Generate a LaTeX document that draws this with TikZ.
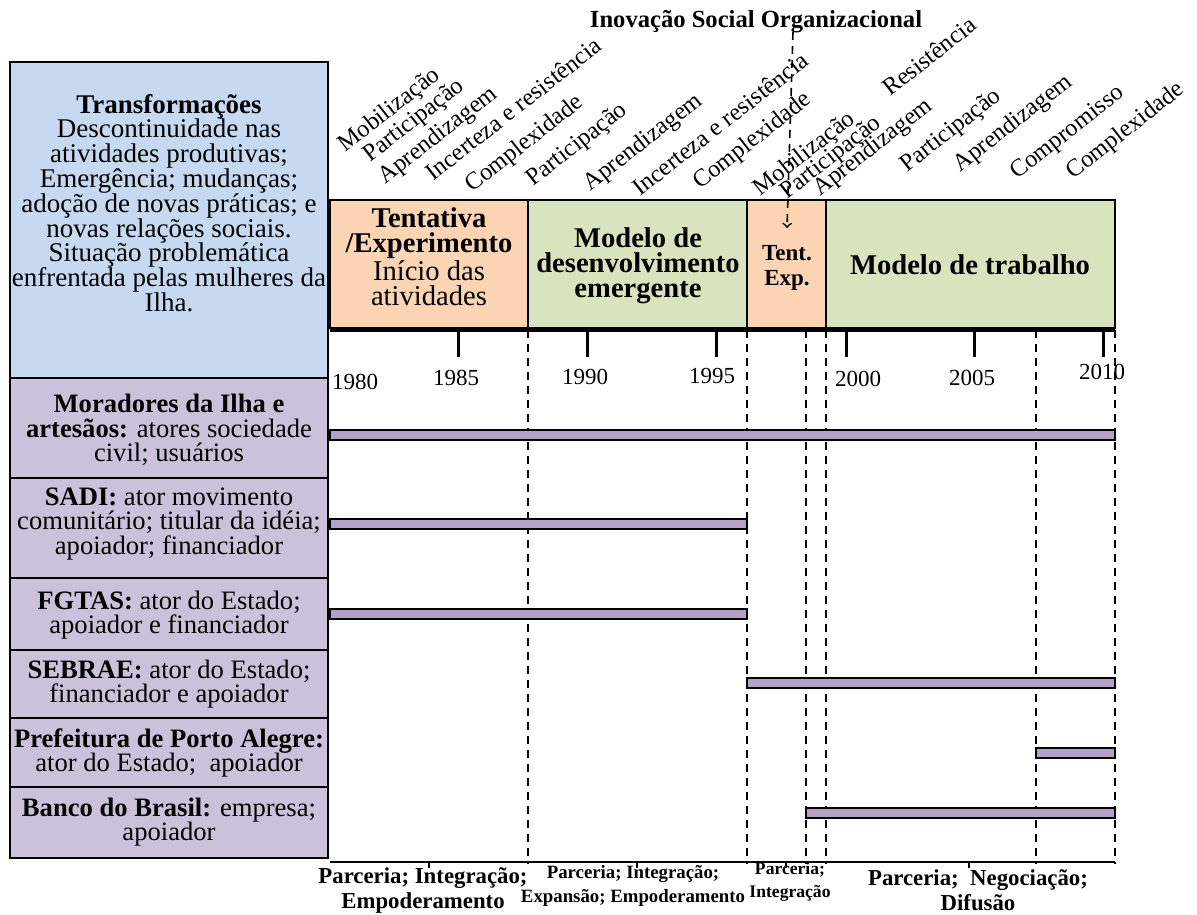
\documentclass[tikz,border=0pt]{standalone}
\usepackage{fontspec}
\setmainfont{Liberation Serif}
\usepackage{xcolor}
\usepackage{tikz}
\usetikzlibrary{positioning}
\definecolor{blueBox}{HTML}{C6D9F1}
\definecolor{peach}{HTML}{FBD4B4}
\definecolor{olive}{HTML}{D7E4BD}
\definecolor{lilac}{HTML}{CCC1DA}
\definecolor{barLilac}{HTML}{B3A2C7}

\begin{document}
\begin{tikzpicture}[x=0.5pt, y=-0.5pt,
	actor/.style={align=center, inner sep=0pt, font=\fontsize{13.3}{12.4}\selectfont},
	phase/.style={align=center, inner sep=0pt, font=\fontsize{14.3}{12.5}\selectfont\bfseries},
	word/.style={rotate=38, anchor=base west, inner sep=0pt, font=\fontsize{12.2}{12.2}\selectfont},
	year/.style={inner sep=0pt, font=\fontsize{11.5}{11.5}\selectfont},
	bigtag/.style={align=center, inner sep=0pt, font=\fontsize{11.4}{12.5}\selectfont\bfseries},
	smalltag/.style={align=center, inner sep=0pt, font=\fontsize{9.4}{12}\selectfont\bfseries},
	cell/.style={draw, line width=1.3pt},
	bar/.style={draw, line width=1.1pt, fill=barLilac},
	cut/.style={line width=0.8pt, dash pattern=on 4pt off 3pt}]
	
	\useasboundingbox (0,0) rectangle (1197,914);
	
	% left column
	\filldraw [cell, fill=blueBox] (10,62) rectangle (328,378);
	\filldraw [cell, fill=lilac] (10,378) rectangle (328,478);
	\filldraw [cell, fill=lilac] (10,478) rectangle (328,578);
	\filldraw [cell, fill=lilac] (10,578) rectangle (328,650);
	\filldraw [cell, fill=lilac] (10,650) rectangle (328,718);
	\filldraw [cell, fill=lilac] (10,718) rectangle (328,787);
	\filldraw [cell, fill=lilac] (10,787) rectangle (328,858);
	
	\node (transf) [actor, font=\fontsize{13.5}{12.4}\selectfont] at (169,203) {\textbf{Transformações}\\Descontinuidade nas\\atividades produtivas;\\Emergência; mudanças;\\adoção de novas práticas; e\\novas relações sociais.\\Situação problemática\\enfrentada pelas mulheres da\\Ilha.};
	\node (morad) [actor] at (169,430) {\textbf{Moradores da Ilha e}\\\textbf{artesãos:} atores sociedade\\civil; usuários};
	\node (sadi) [actor] at (169,524) {\textbf{SADI:} ator movimento\\comunitário; titular da idéia;\\apoiador; financiador};
	\node (fgtas) [actor] at (169,615) {\textbf{FGTAS:} ator do Estado;\\apoiador e financiador};
	\node (sebrae) [actor] at (169,684) {\textbf{SEBRAE:} ator do Estado;\\financiador e apoiador};
	\node (pmpa) [actor] at (169,753) {\textbf{Prefeitura de Porto Alegre:}\\ator do Estado;\ \ apoiador};
	\node (bb) [actor] at (169,822) {\textbf{Banco do Brasil:} empresa;\\apoiador};
	
	% phases
	\filldraw [cell, fill=peach] (330,200) rectangle (528,328);
	\filldraw [cell, fill=olive] (528,200) rectangle (747,328);
	\filldraw [cell, fill=peach] (747,200) rectangle (826,328);
	\filldraw [cell, fill=olive] (826,200) rectangle (1115,328);
	
	\node (tent) [phase] at (429,257) {Tentativa\\/Experimento\\\mdseries Início das\\\mdseries atividades};
	\node (emerg) [phase] at (638,266) {Modelo de\\desenvolvimento\\emergente};
	\node (tentexp) [phase, font=\fontsize{11.5}{12.5}\selectfont\bfseries] at (787,268) {Tent.\\Exp.};
	\node (trab) [phase] at (970,265) {Modelo de trabalho};
	
	% time axis
	\draw [line width=2pt] (330,330)--(1115,330);
	\draw [line width=1.5pt] (458,330)--(458,357);
	\draw [line width=1.5pt] (587,330)--(587,357);
	\draw [line width=1.5pt] (716,330)--(716,357);
	\draw [line width=1.5pt] (846,330)--(846,357);
	\draw [line width=1.5pt] (974,330)--(974,357);
	\draw [line width=1.5pt] (1103,330)--(1103,357);
	
	\node (y80) [year] at (355,382) {1980};
	\node (y85) [year] at (456,378) {1985};
	\node (y90) [year] at (585,377) {1990};
	\node (y95) [year] at (712,376) {1995};
	\node (y00) [year] at (858,379) {2000};
	\node (y05) [year] at (972,378) {2005};
	\node (y10) [year] at (1102,372) {2010};
	
	% period limits
	\draw [cut] (528,330)--(528,864);
	\draw [cut] (747,330)--(747,864);
	\draw [cut] (806,330)--(806,864);
	\draw [cut] (826,330)--(826,864);
	\draw [cut] (1036,330)--(1036,864);
	\draw [cut] (1115,330)--(1115,864);
	
	% actors in time
	\filldraw [bar] (330,430) rectangle (1115,440);
	\filldraw [bar] (330,519) rectangle (747,529);
	\filldraw [bar] (330,609) rectangle (747,619);
	\filldraw [bar] (747,678) rectangle (1115,688);
	\filldraw [bar] (1036,748) rectangle (1115,758);
	\filldraw [bar] (806,808) rectangle (1115,818);
	
	% bottom line
	\draw [line width=0.8pt] (330,862)--(1115,862);
	\draw [line width=0.8pt] (429,862)--(429,868);
	\draw [line width=0.8pt] (637,862)--(637,868);
	\draw [line width=0.8pt] (786,862)--(786,868);
	\draw [line width=0.8pt] (969,862)--(969,868);
	
	\node (relA) [bigtag] at (423,890) {Parceria; Integração;\\Empoderamento};
	\node (relB) [smalltag] at (633,886) {Parceria; Integração;\\Expansão; Empoderamento};
	\node (relC) [smalltag, font=\fontsize{8.8}{11.5}\selectfont\bfseries] at (790,882) {Parceria;\\Integração};
	\node (relD) [bigtag] at (978,890) {Parceria;\ \ Negociação;\\Difusão};
	
	% rotated labels
	\node (w1) [word] at (345,153) {Mobilização};
	\node (w2) [word] at (370,163) {Participação};
	\node (w3) [word] at (385,185) {Aprendizagem};
	\node (w4) [word] at (433,182) {Incerteza e resistência};
	\node (w5) [word] at (472,193) {Complexidade};
	\node (w6) [word] at (533,187) {Participação};
	\node (w7) [word] at (590,192) {Aprendizagem};
	\node (w8) [word] at (640,197) {Incerteza e resistência};
	\node (w9) [word] at (700,190) {Complexidade};
	\node (w10) [word] at (760,197) {Mobilização};
	\node (w11) [word] at (787,200) {Participação};
	\node (w12) [word] at (820,197) {Aprendizagem};
	\node (w13) [word] at (890,97) {Resistência};
	\node (w14) [word] at (907,173) {Participação};
	\node (w15) [word] at (960,173) {Aprendizagem};
	\node (w16) [word] at (1017,180) {Compromisso};
	\node (w17) [word] at (1073,180) {Complexidade};
	
	% social innovation
	\node (iso) [inner sep=0pt, font=\fontsize{12.3}{12.3}\selectfont\bfseries] at (756,22) {Inovação Social Organizacional};
	\coordinate (isoTop) at (793,32);
	\coordinate (isoTip) at (787,228);
	\draw [cut, ->] (isoTop)--(isoTip);
	
\end{tikzpicture}
\end{document}
